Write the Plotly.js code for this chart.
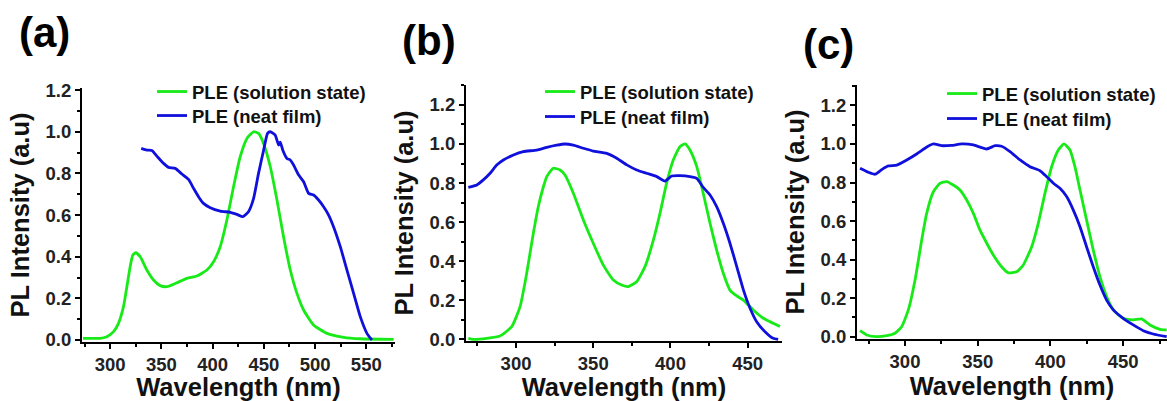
<!DOCTYPE html>
<html>
<head>
<meta charset="utf-8">
<script src="https://cdn.plot.ly/plotly-3.0.1.min.js"></script>
<style>html,body{margin:0;padding:0;background:#fff;}#chart{width:1167px;height:401px;}</style>
</head>
<body>
<div id="chart"></div>
<script>
// ---------- Panel (a) ----------
const wlA_sol = [273.5,290,296.7,303.3,308.1,313,316.3,319.5,322.1,325,329.3,335.8,342.3,348.8,355.4,365.1,374.9,384.6,394.4,400.9,407.4,413.9,420.4,426.9,433.5,440,444.8,449.7,456.3,462.8,469.2,475.8,482.3,488.8,498.5,511.6,527.9,544,576.7];
const intA_sol = [0.008,0.008,0.016,0.04,0.08,0.16,0.256,0.352,0.408,0.419,0.40,0.336,0.288,0.261,0.256,0.275,0.296,0.307,0.336,0.376,0.448,0.576,0.736,0.88,0.968,1.0,0.992,0.944,0.832,0.672,0.496,0.336,0.224,0.144,0.072,0.032,0.013,0.006,0.003];
const wlA_film = [330.3,335.8,340.7,345.6,352.1,357,363.5,370,376.5,381.4,386.2,391.1,397.7,407.4,417.2,423.7,429.6,435,440,444.8,449.7,453.6,456.3,461.1,464.4,466,468.6,472.5,475.8,479,484,488.8,493.7,498.5,503.4,508.3,513.2,518,524.6,531.1,537.6,544.1,550.6,555.5];
const intA_film = [0.92,0.912,0.91,0.883,0.848,0.829,0.824,0.797,0.771,0.728,0.688,0.656,0.635,0.619,0.613,0.603,0.592,0.616,0.68,0.80,0.91,0.992,1.0,0.984,0.936,0.95,0.91,0.872,0.864,0.84,0.792,0.76,0.704,0.696,0.672,0.64,0.60,0.544,0.448,0.336,0.224,0.112,0.032,0.0];

// ---------- Panel (b) ----------
const wlB_sol = [269.1,272.4,281,289.6,297.2,302.6,306.9,311.2,314.4,317.7,319.9,324.1,328.5,331.7,337.1,343.6,350,356.5,363,368.4,372.7,378.1,383.5,388.9,393.2,397.5,401.8,406.1,409.4,412.6,417,421.2,425.6,429.9,434.2,438.5,442.9,447.2,453.6,460.1,466.5,470.9];
const intB_sol = [0.005,0.0,0.005,0.017,0.065,0.167,0.338,0.543,0.679,0.781,0.833,0.876,0.867,0.841,0.748,0.611,0.492,0.38,0.304,0.278,0.27,0.295,0.372,0.508,0.645,0.80,0.918,0.986,1.0,0.969,0.884,0.748,0.594,0.457,0.338,0.252,0.222,0.201,0.15,0.108,0.082,0.065];
const wlB_film = [269.1,274.6,278.8,283.2,287.5,291.8,298.3,304.7,313.4,319.9,326.3,331.7,337.1,343.6,350,358.7,365.2,371.7,378.1,384.6,391.1,396.4,400.8,406.1,412.6,417,421.2,425.6,429.9,434.2,438.5,442.9,447.2,451.5,455.8,461.2,466.5,469.7];
const intB_film = [0.778,0.79,0.816,0.85,0.892,0.918,0.944,0.961,0.969,0.983,0.994,1.0,0.994,0.978,0.964,0.952,0.927,0.893,0.867,0.85,0.833,0.81,0.836,0.838,0.833,0.824,0.778,0.739,0.679,0.594,0.492,0.372,0.253,0.159,0.09,0.039,0.005,0.0];

// ---------- Panel (c) ----------
const wlC_sol = [269.1,273.7,280.5,287.4,293.1,297.7,302.3,306.9,311.5,314.9,319.5,324.1,328.7,333.2,337.8,342.4,347,351.5,356.2,360.7,366.4,371,376.8,381.3,387.1,391.6,396.2,400.8,405.4,409.3,413.4,416.8,420.3,424.8,429.4,434,438.6,443.2,450,456.9,462.6,468.4,475.3,479.9];
const intC_sol = [0.031,0.009,0.0,0.005,0.018,0.052,0.139,0.294,0.502,0.64,0.752,0.796,0.805,0.787,0.761,0.709,0.64,0.554,0.485,0.424,0.363,0.332,0.337,0.372,0.467,0.588,0.744,0.882,0.969,1.0,0.969,0.882,0.761,0.606,0.45,0.311,0.208,0.139,0.095,0.087,0.092,0.061,0.038,0.035];
const wlC_film = [269.1,274.8,279.4,284,288.5,294.3,301.2,308,313.7,319.5,325.2,332.1,339,347,356.2,361.9,366.4,372.2,379.1,385.9,392.8,397.4,402,406.5,411.1,415.7,420.3,424.8,429.4,434,438.6,443.2,450,456.9,463.8,470.6,479.9];
const intC_film = [0.874,0.853,0.843,0.867,0.886,0.89,0.917,0.948,0.978,1.0,0.991,0.993,1.0,0.995,0.974,0.991,0.988,0.96,0.917,0.882,0.861,0.83,0.796,0.77,0.727,0.657,0.571,0.467,0.363,0.268,0.19,0.139,0.095,0.061,0.031,0.014,0.0];

const seriesNames = ['PLE (solution state)', 'PLE (neat film)'];
const panelLabels = ['(a)', '(b)', '(c)'];
const xTitle = 'Wavelength (nm)';
const yTitle = 'PL Intensity (a.u)';

const GREEN = '#18ea18';
const BLUE = '#1010dc';
const FONT = 'Liberation Sans, Arial, sans-serif';

function tr(x, y, name, color, idx, legendId) {
  return {
    x: x, y: y, name: name, type: 'scatter', mode: 'lines',
    line: {color: color, width: 2.8, shape: 'spline', smoothing: 0.5},
    xaxis: idx === 1 ? 'x' : 'x' + idx,
    yaxis: idx === 1 ? 'y' : 'y' + idx,
    legend: legendId
  };
}

const data = [
  tr(wlA_sol, intA_sol, seriesNames[0], GREEN, 1, 'legend'),
  tr(wlA_film, intA_film, seriesNames[1], BLUE, 1, 'legend2'),
  tr(wlB_sol, intB_sol, seriesNames[0], GREEN, 2, 'legend3'),
  tr(wlB_film, intB_film, seriesNames[1], BLUE, 2, 'legend4'),
  tr(wlC_sol, intC_sol, seriesNames[0], GREEN, 3, 'legend5'),
  tr(wlC_film, intC_film, seriesNames[1], BLUE, 3, 'legend6')
];

const W = 1167, H = 401;
function px2x(p) { return p / W; }
function px2y(p) { return (H - p) / H; }

function xAxis(dom, range, anchor) {
  return {
    domain: dom, range: range, anchor: anchor,
    showline: true, linecolor: '#000', linewidth: 2, mirror: false,
    showgrid: false, zeroline: false,
    ticks: 'outside', ticklen: 5, tickwidth: 2, tickcolor: '#000',
    tick0: 300, dtick: 50,
    minor: {ticks: 'outside', ticklen: 3, tickwidth: 2, tickcolor: '#000', dtick: 25, tick0: 300, showgrid: false},
    tickfont: {family: FONT, size: 18.5, color: '#222', weight: 'bold'},
    title: {text: xTitle, font: {family: FONT, size: 25.5, color: '#111', weight: 'bold'}, standoff: 2},
    automargin: false, fixedrange: true
  };
}
function yAxis(dom, range, anchor) {
  return {
    domain: dom, range: range, anchor: anchor,
    showline: true, linecolor: '#000', linewidth: 2, mirror: false,
    showgrid: false, zeroline: false,
    ticks: 'outside', ticklen: 5, tickwidth: 2, tickcolor: '#000',
    tick0: 0, dtick: 0.2, tickformat: '.1f',
    minor: {ticks: 'outside', ticklen: 3, tickwidth: 2, tickcolor: '#000', dtick: 0.1, tick0: 0, showgrid: false},
    tickfont: {family: FONT, size: 18.5, color: '#222', weight: 'bold'},
    title: {text: yTitle, font: {family: FONT, size: 25.5, color: '#111', weight: 'bold'}, standoff: 9},
    automargin: false, fixedrange: true
  };
}

function legendAt(pxLeft, pxMid) {
  return {
    x: px2x(pxLeft), y: px2y(pxMid), xanchor: 'left', yanchor: 'middle',
    bgcolor: 'rgba(0,0,0,0)', borderwidth: 0,
    font: {family: FONT, size: 18.5, color: '#111', weight: 'bold'},
    tracegroupgap: 0, itemclick: false, itemdoubleclick: false
  };
}

function panelLabel(txt, cx, cy) {
  return {text: txt, x: px2x(cx), y: px2y(cy), xref: 'paper', yref: 'paper', showarrow: false,
          xanchor: 'center', yanchor: 'middle', font: {family: FONT, size: 42, color: '#000', weight: 'bold'}};
}

const layout = {
  width: W, height: H,
  margin: {l: 0, r: 0, t: 0, b: 0},
  paper_bgcolor: '#fff', plot_bgcolor: '#fff',
  showlegend: true,
  xaxis: xAxis([px2x(82), px2x(395)], [272.5, 578], 'y'),
  yaxis: yAxis([px2y(342), px2y(88)], [-0.0096, 1.21], 'x'),
  xaxis2: xAxis([px2x(466), px2x(782)], [267.6, 472.2], 'y2'),
  yaxis2: yAxis([px2y(341), px2y(85)], [-0.0087, 1.302], 'x2'),
  xaxis3: xAxis([px2x(857), 1.0], [267.0, 480.1], 'y3'),
  yaxis3: yAxis([px2y(339), px2y(85)], [-0.012, 1.306], 'x3'),
  legend: legendAt(152, 92),
  legend2: legendAt(152, 116),
  legend3: legendAt(540, 92),
  legend4: legendAt(540, 117),
  legend5: legendAt(942, 94),
  legend6: legendAt(942, 119),
  annotations: [
    panelLabel(panelLabels[0], 44, 33),
    panelLabel(panelLabels[1], 429, 40),
    panelLabel(panelLabels[2], 828, 44)
  ]
};

Plotly.newPlot('chart', data, layout, {displayModeBar: false, staticPlot: true});
</script>
</body>
</html>
